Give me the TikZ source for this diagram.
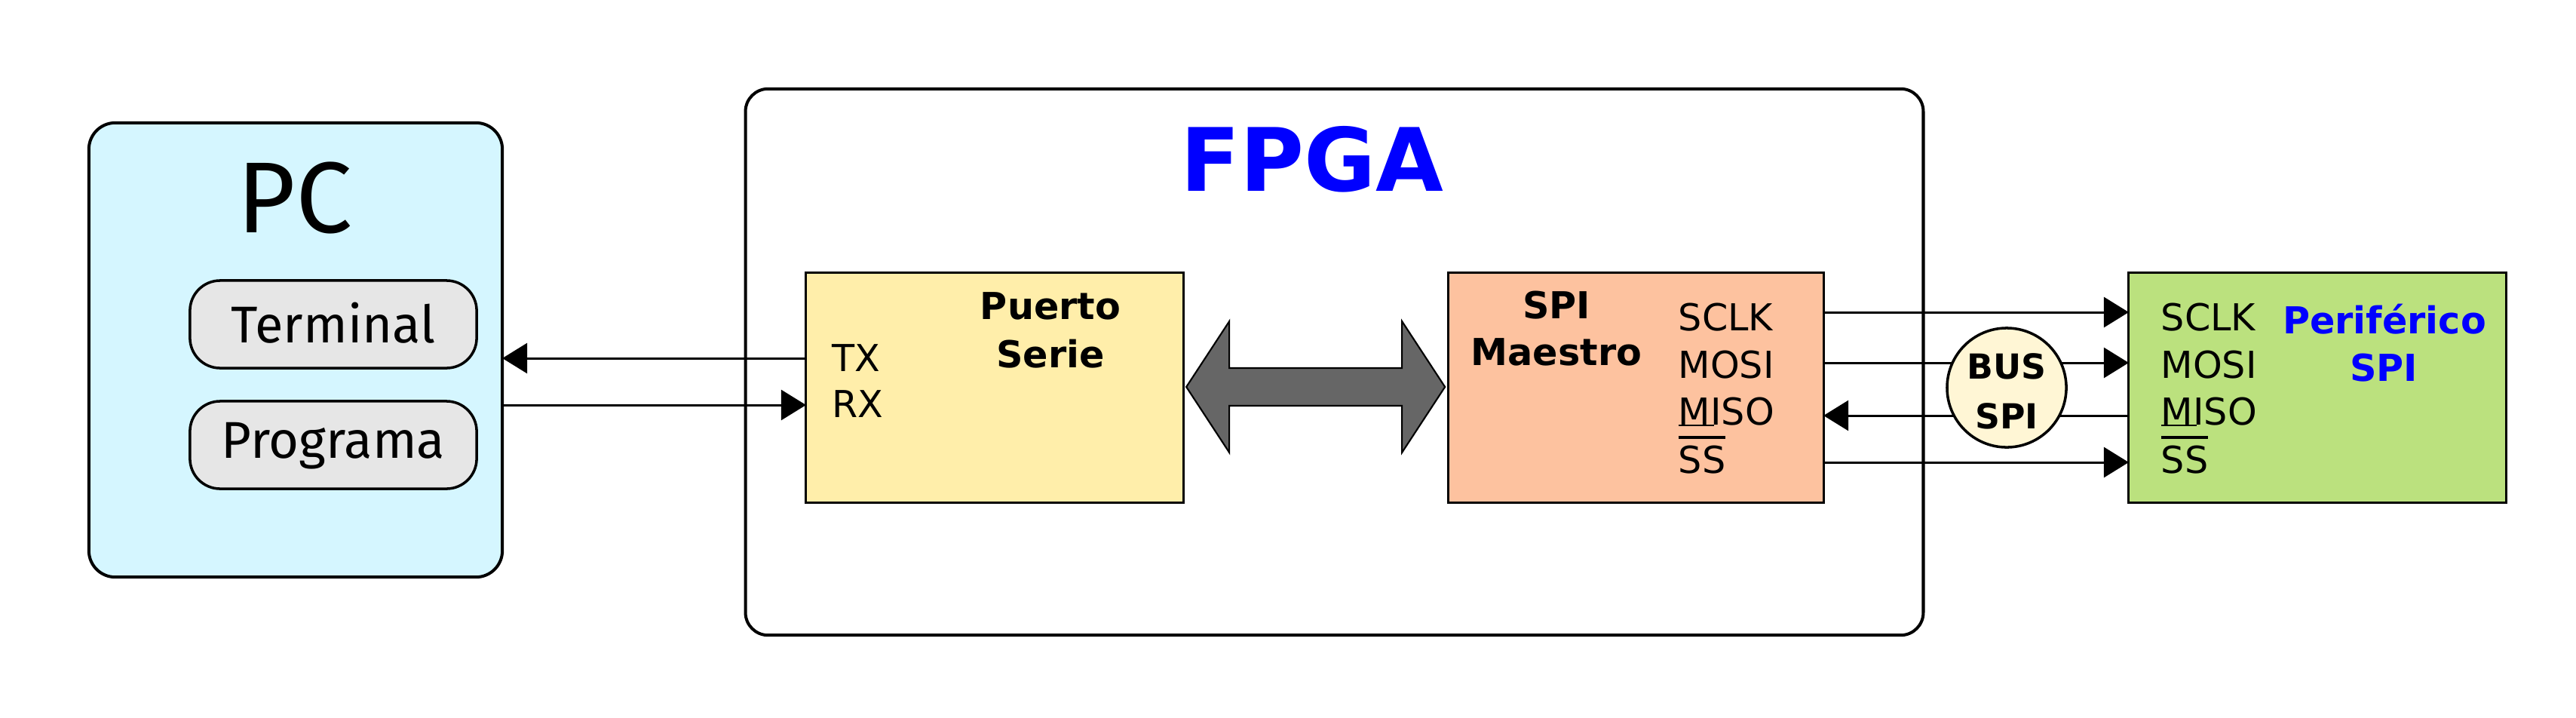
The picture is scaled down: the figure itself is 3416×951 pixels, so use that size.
\documentclass[tikz,border=0pt]{standalone}
\usepackage{fontspec}
\setmainfont{DejaVu Sans}
\newfontfamily\firafont{Fira Sans}
\usetikzlibrary{arrows.meta,calc}
\definecolor{pcfill}{HTML}{D5F6FF}
\definecolor{termfill}{HTML}{E6E6E6}
\definecolor{puertofill}{HTML}{FFEEAA}
\definecolor{spifill}{HTML}{FDC29F}
\definecolor{perfill}{HTML}{BBE17E}
\definecolor{busfill}{HTML}{FFF6D5}
\definecolor{bigarrowfill}{HTML}{666666}
\definecolor{titleblue}{HTML}{0000FF}
\newcommand\OvSS{{\setbox0=\hbox{SS}\rlap{\rule[12.7pt]{\wd0}{1.1pt}}\box0}}
\newcommand\UnMISO{\rlap{\rule[-0.5pt]{13.4pt}{0.6pt}}MISO}
\begin{document}
\begin{tikzpicture}[x=0.01cm,y=-0.01cm,
  box/.style={draw=black, rectangle, inner sep=0pt, outer sep=0pt},
  sig/.style={font=\fontsize{14}{17}\selectfont, anchor=base west, inner sep=0pt},
  ttl/.style={font=\fontsize{14}{17}\selectfont\bfseries, anchor=base, inner sep=0pt},
  arr/.style={line width=0.85pt, -{Triangle[length=9.4pt,width=11.4pt]}},
  pcitem/.style={box, fill=termfill, line width=1pt, rounded corners=0.4cm,
    minimum width=3.8cm, minimum height=1.16cm, font=\firafont\fontsize{19.5}{22}\selectfont, text depth=0pt}]
\useasboundingbox (0,0) rectangle (3416,951);

% FPGA
\node[box, fill=white, line width=1.14pt, rounded corners=0.3cm,
  minimum width=15.61cm, minimum height=7.24cm] (fpga) at (1769.5,480) {};
\node[anchor=base, inner sep=0pt, text=titleblue, font=\fontsize{33}{36}\selectfont\bfseries] (fpgat) at (1740,253) {FPGA};

% PC
\node[box, fill=pcfill, line width=1.14pt, rounded corners=0.35cm,
  minimum width=5.48cm, minimum height=6.02cm] (pc) at (392,464) {};
\node[anchor=base, inner sep=0pt, font=\firafont\fontsize{38}{40}\selectfont] (pct) at (391,308) {PC};
\node[pcitem, text height=14.2pt] (term) at (442,430) {Terminal};
\node[pcitem, text height=10.2pt] (prog) at (442,590) {Programa};

% Puerto serie
\node[box, fill=puertofill, line width=0.85pt, minimum width=5cm, minimum height=3.04cm] (puerto) at (1319,514) {};
\node[ttl] (pt1) at (1393,423) {Puerto};
\node[ttl] (pt2) at (1393,487) {Serie};
\node[sig] (tx) at (1103,492) {TX};
\node[sig] (rx) at (1103,553) {RX};

% SPI Maestro
\node[box, fill=spifill, line width=0.85pt, minimum width=4.97cm, minimum height=3.04cm] (spi) at (2169.5,514) {};
\node[ttl] (st1) at (2064,422) {SPI};
\node[ttl] (st2) at (2064,484) {Maestro};
\node[sig] (ms1) at (2225,438) {SCLK};
\node[sig] (ms2) at (2225,501) {MOSI};
\node[sig] (ms3) at (2225,563) {\UnMISO};
\node[sig] (ms4) at (2225,627) {\OvSS};

% Periferico
\node[box, fill=perfill, line width=0.85pt, minimum width=5cm, minimum height=3.04cm] (per) at (3073,514) {};
\node[ttl, text=titleblue] (pe1) at (3162,442) {Periférico};
\node[ttl, text=titleblue] (pe2) at (3161,505) {SPI};
\node[sig] (ps1) at (2865,438) {SCLK};
\node[sig] (ps2) at (2865,501) {MOSI};
\node[sig] (ps3) at (2865,563) {\UnMISO};
\node[sig] (ps4) at (2865,627) {\OvSS};

% levels
\coordinate (ytx) at (0,475);
\coordinate (yrx) at (0,537);
\coordinate (ysclk) at (0,414);
\coordinate (ymosi) at (0,481);
\coordinate (ymiso) at (0,551);
\coordinate (yss) at (0,613);

% connectors
\draw[arr] (ytx -| puerto.west) -- (ytx -| pc.east);
\draw[arr] (yrx -| pc.east) -- (yrx -| puerto.west);
\draw[arr] (ysclk -| spi.east) -- (ysclk -| per.west);
\draw[arr] (ymosi -| spi.east) -- (ymosi -| per.west);
\draw[arr] (ymiso -| per.west) -- (ymiso -| spi.east);
\draw[arr] (yss -| spi.east) -- (yss -| per.west);

% double arrow between Puerto Serie and SPI Maestro
\draw[fill=bigarrowfill, line width=0.6pt, line join=miter]
  ($(puerto.east)+(4,-1)$) -- ++(57,-87) -- ++(0,62) -- ++(229,0) -- ++(0,-62)
  -- ++(57,87) -- ++(-57,87) -- ++(0,-62) -- ++(-229,0) -- ++(0,62) -- cycle;

% Bus SPI
\node[circle, draw=black, line width=1pt, fill=busfill, minimum size=1.58cm, inner sep=0pt] (bus) at (2661,514) {};
\node[ttl, font=\fontsize{13}{16}\selectfont\bfseries] (bus1) at (2661,502) {BUS};
\node[ttl, font=\fontsize{13}{16}\selectfont\bfseries] (bus2) at (2661,568) {SPI};
\end{tikzpicture}
\end{document}
